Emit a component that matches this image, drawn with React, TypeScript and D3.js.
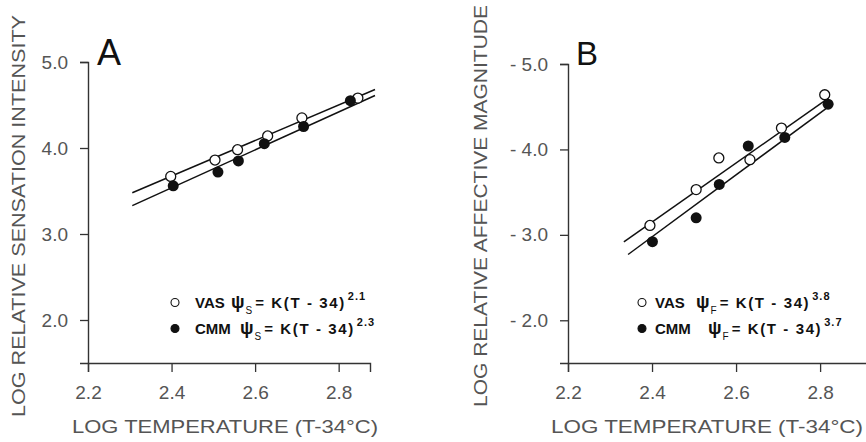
import React, { useEffect, useRef } from "react";
import * as d3 from "d3";

// shared x ticks (log temperature)
const tempTicks = [2.2, 2.4, 2.6, 2.8];

// panel A: sensation intensity
const sensTicks = [2.0, 3.0, 4.0, 5.0];
const sensVasX = [2.398, 2.504, 2.558, 2.63, 2.712, 2.846];
const sensVasY = [3.67, 3.86, 3.98, 4.14, 4.35, 4.58];
const sensCmmX = [2.404, 2.511, 2.56, 2.622, 2.716, 2.828];
const sensCmmY = [3.56, 3.72, 3.85, 4.05, 4.25, 4.55];
const sensVasFitX = [2.306, 2.887];
const sensVasFitY = [3.48, 4.68];
const sensCmmFitX = [2.306, 2.887];
const sensCmmFitY = [3.33, 4.61];

// panel B: affective magnitude
const affTicks = [-2.0, -3.0, -4.0, -5.0];
const affVasX = [2.395, 2.505, 2.559, 2.633, 2.708, 2.811];
const affVasY = [-3.11, -3.53, -3.9, -3.88, -4.25, -4.64];
const affCmmX = [2.401, 2.505, 2.56, 2.629, 2.716, 2.819];
const affCmmY = [-2.92, -3.2, -3.59, -4.04, -4.14, -4.53];
const affVasFitX = [2.333, 2.819];
const affVasFitY = [-2.917, -4.598];
const affCmmFitX = [2.343, 2.831];
const affCmmFitY = [-2.77, -4.54];

const font = "'Liberation Sans', Arial, sans-serif";

const App = () => {
  const svgRef = useRef(null);

  useEffect(() => {
    const svg = d3.select(svgRef.current);
    svg.selectAll("*").remove();

    const drawPanel = (opts) => {
      const g = svg.append("g");
      const x = d3.scaleLinear().domain(opts.xDomain).range(opts.xRange);
      const y = d3.scaleLinear().domain(opts.yDomain).range([363, opts.yTop]);

      // x axis
      const xAxis = g
        .append("g")
        .attr("transform", "translate(0,363)")
        .call(d3.axisBottom(x).tickValues(tempTicks).tickSizeOuter(0).tickSize(9).tickPadding(14).tickFormat(d3.format(".1f")));
      // y axis
      const yAxis = g
        .append("g")
        .attr("transform", `translate(${opts.xRange[0]},0)`)
        .call(d3.axisLeft(y).tickValues(opts.yTicks).tickSizeOuter(0).tickSize(8).tickPadding(12).tickFormat(opts.yFormat));

      [xAxis, yAxis].forEach((ax) => {
        ax.select(".domain").attr("stroke", "#333").attr("stroke-width", 1.4);
        ax.selectAll(".tick line").attr("stroke", "#333").attr("stroke-width", 1.3);
        ax.selectAll(".tick text").attr("fill", "#555").attr("font-family", font).attr("font-size", 19);
      });

      // fitted lines
      const line = d3.line().x((d) => x(d[0])).y((d) => y(d[1]));
      [opts.vasFit, opts.cmmFit].forEach((f) => {
        g.append("path")
          .attr("d", line(d3.zip(f[0], f[1])))
          .attr("fill", "none")
          .attr("stroke", "#111")
          .attr("stroke-width", 1.5);
      });

      // points
      g.selectAll(".vas")
        .data(d3.zip(opts.vas[0], opts.vas[1]))
        .join("circle")
        .attr("cx", (d) => x(d[0]))
        .attr("cy", (d) => y(d[1]))
        .attr("r", 5)
        .attr("fill", "#fff")
        .attr("stroke", "#111")
        .attr("stroke-width", 1.3);
      g.selectAll(".cmm")
        .data(d3.zip(opts.cmm[0], opts.cmm[1]))
        .join("circle")
        .attr("cx", (d) => x(d[0]))
        .attr("cy", (d) => y(d[1]))
        .attr("r", 5.5)
        .attr("fill", "#111");

      // panel letter
      g.append("text")
        .attr("x", opts.letterX)
        .attr("y", 65)
        .attr("font-family", font)
        .attr("font-size", opts.letterSize)
        .attr("fill", "#111")
        .text(opts.letter);

      // axis titles
      g.append("text")
        .attr("transform", `translate(${opts.yTitleX},${opts.yTitleY}) rotate(-90)`)
        .attr("font-family", font)
        .attr("font-size", 18.5)
        .attr("fill", "#555")
        .attr("textLength", opts.yTitleLen)
        .attr("lengthAdjust", "spacingAndGlyphs")
        .text(opts.yTitle);
      g.append("text")
        .attr("x", opts.xTitleX)
        .attr("y", 433)
        .attr("font-family", font)
        .attr("font-size", 18.5)
        .attr("fill", "#555")
        .attr("textLength", opts.xTitleLen)
        .attr("lengthAdjust", "spacingAndGlyphs")
        .text("LOG TEMPERATURE (T-34°C)");

      // legend
      const leg = g.append("g").attr("font-family", font).attr("fill", "#111").attr("font-weight", "bold");
      opts.legend.forEach((row, i) => {
        const ly = opts.legendY + i * 26;
        leg.append("circle")
          .attr("cx", opts.legendX)
          .attr("cy", ly - 5.5)
          .attr("r", 4)
          .attr("fill", i === 0 ? "#fff" : "#111")
          .attr("stroke", "#111")
          .attr("stroke-width", 1.1);
        leg.append("text")
          .attr("x", opts.legendX + opts.textDx)
          .attr("y", ly)
          .attr("font-size", 15)
          .text(row.name);
        const t = leg.append("text").attr("x", opts.legendX + row.psiDx).attr("y", ly).attr("font-size", 15);
        t.append("tspan").attr("font-size", 18).text("ψ");
        t.append("tspan").attr("dy", 6).attr("dx", 1).attr("font-size", 10).attr("font-weight", "normal").text(opts.sub);
        t.append("tspan").attr("dy", -6).attr("dx", 3).attr("letter-spacing", 1.6).text("= K(T - 34)");
        t.append("tspan").attr("dy", -8).attr("dx", 2).attr("font-size", 11).attr("letter-spacing", 1).text(row.exp);
      });
    };

    drawPanel({
      xDomain: [2.2, 2.875],
      xRange: [88, 370],
      yDomain: [1.5, 5.0],
      yTop: 62,
      yTicks: sensTicks,
      yFormat: d3.format(".1f"),
      vas: [sensVasX, sensVasY],
      cmm: [sensCmmX, sensCmmY],
      vasFit: [sensVasFitX, sensVasFitY],
      cmmFit: [sensCmmFitX, sensCmmFitY],
      letter: "A",
      letterX: 97,
      letterSize: 36,
      yTitle: "LOG RELATIVE SENSATION INTENSITY",
      yTitleX: 25,
      yTitleY: 417,
      yTitleLen: 402,
      xTitleX: 72,
      xTitleLen: 306,
      legendX: 175,
      legendY: 308,
      textDx: 20,
      sub: "S",
      legend: [
        { name: "VAS", exp: "2.1", psiDx: 56 },
        { name: "CMM", exp: "2.3", psiDx: 65 },
      ],
    });

    drawPanel({
      xDomain: [2.2, 2.914],
      xRange: [568, 868],
      yDomain: [-1.5, -5.0],
      yTop: 64,
      yTicks: affTicks,
      yFormat: (d) => "- " + Math.abs(d).toFixed(1),
      vas: [affVasX, affVasY],
      cmm: [affCmmX, affCmmY],
      vasFit: [affVasFitX, affVasFitY],
      cmmFit: [affCmmFitX, affCmmFitY],
      letter: "B",
      letterX: 576,
      letterSize: 33,
      yTitle: "LOG RELATIVE AFFECTIVE MAGNITUDE",
      yTitleX: 487,
      yTitleY: 407,
      yTitleLen: 402,
      xTitleX: 551,
      xTitleLen: 312,
      legendX: 642,
      legendY: 308,
      textDx: 13,
      sub: "F",
      legend: [
        { name: "VAS", exp: "3.8", psiDx: 54 },
        { name: "CMM", exp: "3.7", psiDx: 66 },
      ],
    });
  }, []);

  return (
    <svg
      ref={svgRef}
      width={866}
      height={442}
      style={{ position: "absolute", left: 0, top: 0, background: "#fff" }}
    />
  );
};

export default App;
